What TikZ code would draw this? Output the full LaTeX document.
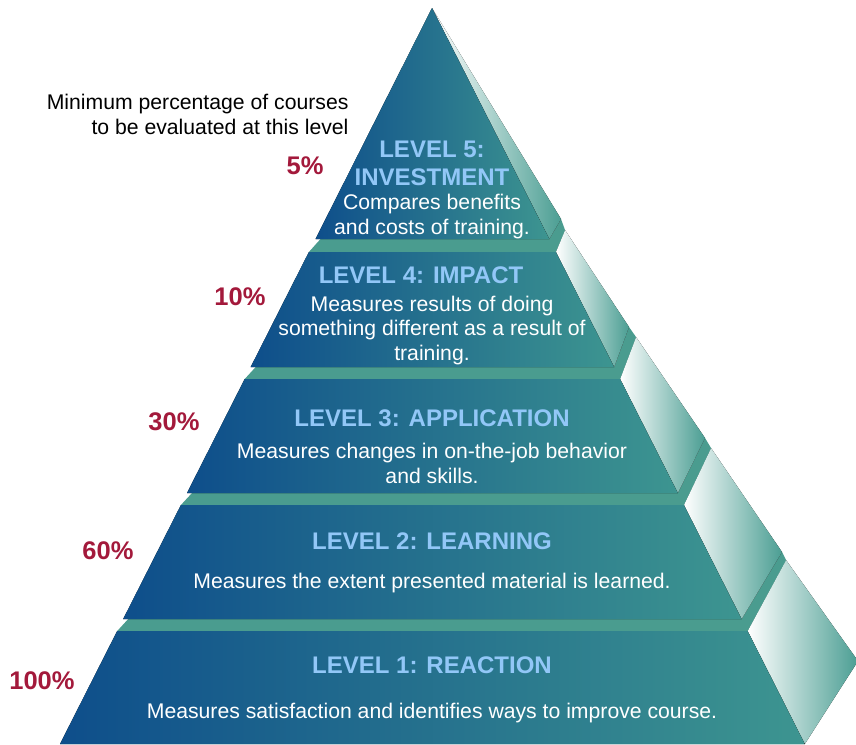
\documentclass[tikz,border=0pt]{standalone}
\usepackage{fontspec}
\setmainfont{Liberation Sans}
\definecolor{frontblue}{HTML}{0E4E8B}
\definecolor{frontteal}{HTML}{3D9590}
\definecolor{topteal}{HTML}{4A9C8F}
\definecolor{sideteal}{HTML}{4B9E93}
\definecolor{titleblue}{HTML}{92C7F7}
\definecolor{pctred}{HTML}{A3193B}

\begin{document}
\begin{tikzpicture}[x=1pt,y=-1pt,
  front/.style={left color=frontblue,right color=frontteal},
  side/.style={left color=white,right color=sideteal},
  topface/.style={fill=topteal},
  lvltitle/.style={text=titleblue,font=\fontsize{24}{28}\selectfont\bfseries,anchor=base},
  desc/.style={text=white,font=\fontsize{21.2}{24.5}\selectfont,anchor=base,align=center},
  pct/.style={text=pctred,font=\fontsize{25.5}{30}\selectfont\bfseries,anchor=base}]
\useasboundingbox (0,0) rectangle (856,744);

% Level 1
\fill[side] (747.6,631) -- (786,560) -- (858,661) -- (804.8,744) -- cycle;
\fill[topface] (117.2,631) -- (128.2,619) -- (741.6,619) -- (782,552) -- (786,560) -- (747.6,631) -- cycle;
\fill[front] (117.2,631) -- (747.6,631) -- (804.8,744) -- (60,744) -- cycle;

% Level 2
\fill[side] (683.9,505) -- (711,448) -- (782,552) -- (741.6,619) -- cycle;
\fill[topface] (180.9,505) -- (192,493) -- (677.8,493) -- (705,438) -- (711,448) -- (683.9,505) -- cycle;
\fill[front] (180.9,505) -- (683.9,505) -- (741.6,619) -- (123.2,619) -- cycle;

% Level 3
\fill[side] (620.1,379) -- (636,337) -- (705,438) -- (677.8,493) -- cycle;
\fill[topface] (244.7,379) -- (255.7,367) -- (614.1,367) -- (629,327) -- (636,337) -- (620.1,379) -- cycle;
\fill[front] (244.7,379) -- (620.1,379) -- (677.8,493) -- (187,493) -- cycle;

% Level 4
\fill[side] (555.9,252) -- (565,230) -- (629,327) -- (614.1,367) -- cycle;
\fill[topface] (308.9,252) -- (320.5,239) -- (549.3,239) -- (561,219) -- (565,230) -- (555.9,252) -- cycle;
\fill[front] (308.9,252) -- (555.9,252) -- (614.1,367) -- (250.7,367) -- cycle;

% Level 5
\fill[side] (432,8) -- (561,219) -- (549.3,239) -- cycle;
\fill[front] (432,8) -- (549.3,239) -- (315.5,239) -- cycle;

% Note (base = last line)
\node[desc,text=black,align=right,anchor=base east] (note) at (352,134) {Minimum percentage of courses\\to be evaluated at this level};

% Percentages
\node[pct] (pct5) at (305,174) {5\%};
\node[pct] (pct4) at (240,305) {10\%};
\node[pct] (pct3) at (174,430) {30\%};
\node[pct] (pct2) at (108,559) {60\%};
\node[pct] (pct1) at (42,689) {100\%};

% Level texts
\node[lvltitle,align=center] (lvl5) at (432,185.5) {LEVEL 5:\\INVESTMENT};
\node[desc] (desc5) at (432,234) {Compares benefits\\and costs of training.};
\node[lvltitle] (lvl4) at (421,283) {LEVEL 4: IMPACT};
\node[desc] (desc4) at (432,360) {Measures results of doing\\something different as a result of\\training.};
\node[lvltitle] (lvl3) at (432,426.5) {LEVEL 3: APPLICATION};
\node[desc] (desc3) at (432,483) {Measures changes in on-the-job behavior\\and skills.};
\node[lvltitle] (lvl2) at (432,549.5) {LEVEL 2: LEARNING};
\node[desc] (desc2) at (432,588) {Measures the extent presented material is learned.};
\node[lvltitle] (lvl1) at (432,673.5) {LEVEL 1: REACTION};
\node[desc] (desc1) at (432,718) {Measures satisfaction and identifies ways to improve course.};
\end{tikzpicture}
\end{document}
